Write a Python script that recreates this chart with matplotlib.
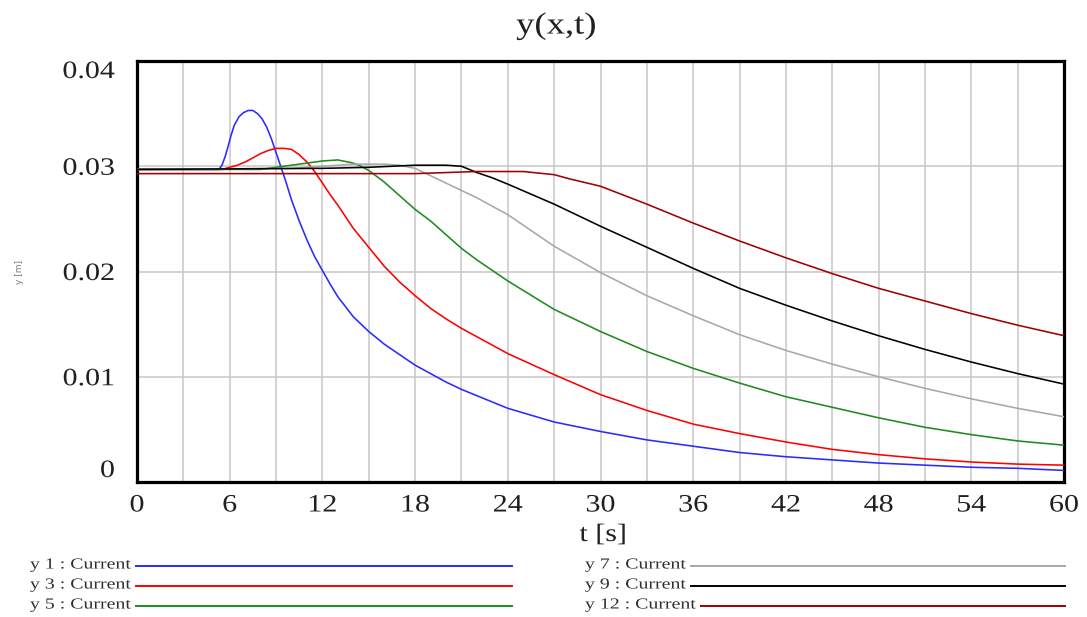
import matplotlib
matplotlib.use("Agg")
import matplotlib.pyplot as plt
import numpy as np
from matplotlib.patheffects import AbstractPathEffect
from matplotlib.transforms import Affine2D
from matplotlib.lines import Line2D

# ---- simulation output: y at several positions x, versus time t [s] ----
t_y1 = [0, 5.3, 5.5, 5.7, 5.9, 6.1, 6.3, 6.6, 6.9, 7.2, 7.5, 7.8, 8.1, 8.4, 8.7, 9.0,
        9.3, 9.6, 10, 10.5, 11, 11.5, 12, 12.5, 13, 14, 15, 16, 17, 18, 19, 20, 21,
        22, 24, 27, 30, 33, 36, 39, 42, 45, 48, 51, 54, 57, 60]
y1 = [0.0297, 0.0297, 0.0301, 0.0309, 0.0319, 0.0330, 0.0339, 0.0347, 0.0351, 0.0353,
      0.0353, 0.0350, 0.0345, 0.0337, 0.0326, 0.0313, 0.0300, 0.0287, 0.0268, 0.0248,
      0.0230, 0.0214, 0.0201, 0.0188, 0.0176, 0.0157, 0.0143, 0.0131, 0.0121, 0.0111,
      0.0103, 0.0095, 0.0088, 0.0082, 0.0070, 0.0057, 0.0048, 0.0040, 0.0034, 0.0028,
      0.0024, 0.0021, 0.0018, 0.0016, 0.0014, 0.0013, 0.0011]

t_y3 = [0, 5.5, 6.0, 6.5, 7.0, 7.5, 8.0, 8.5, 9.0, 9.5, 10.0, 10.5, 11.0, 11.5, 12,
        12.5, 13, 13.5, 14, 15, 16, 17, 18, 19, 20, 21, 22, 24, 27, 30, 33, 36, 39,
        42, 45, 48, 51, 54, 57, 60]
y3 = [0.0297, 0.0297, 0.0299, 0.0301, 0.0304, 0.0308, 0.0312, 0.0315, 0.0317, 0.0317,
      0.0316, 0.0311, 0.0304, 0.0295, 0.0284, 0.0273, 0.0263, 0.0252, 0.0241, 0.0223,
      0.0205, 0.0190, 0.0177, 0.0165, 0.0155, 0.0146, 0.0138, 0.0122, 0.0102, 0.0083,
      0.0068, 0.0055, 0.0046, 0.0038, 0.0031, 0.0026, 0.0022, 0.0019, 0.0017, 0.0016]

t_y5 = [0, 8, 9, 10, 11, 12, 13, 14, 14.5, 15, 16, 17, 18, 19, 20, 21, 22, 24, 27,
        30, 33, 36, 39, 42, 45, 48, 51, 54, 57, 60]
y5 = [0.0297, 0.0297, 0.0299, 0.0301, 0.0303, 0.0305, 0.0306, 0.0303, 0.0300, 0.0296,
      0.0285, 0.0272, 0.0259, 0.0248, 0.0235, 0.0222, 0.0211, 0.0191, 0.0164, 0.0143,
      0.0124, 0.0108, 0.0094, 0.0081, 0.0071, 0.0061, 0.0052, 0.0045, 0.0039, 0.0035]

t_y7 = [0, 10, 12, 14, 16, 17, 18, 19, 20, 21, 22, 24, 27, 30, 33, 36, 39, 42, 45,
        48, 51, 54, 57, 60]
y7 = [0.0297, 0.0298, 0.0300, 0.0302, 0.0302, 0.0301, 0.0298, 0.0291, 0.0284, 0.0277,
      0.0270, 0.0254, 0.0224, 0.0199, 0.0177, 0.0158, 0.0140, 0.0125, 0.0112, 0.0100,
      0.0089, 0.0079, 0.0070, 0.0062]

t_y9 = [0, 12, 15, 18, 20, 21, 22, 23, 24, 27, 30, 33, 36, 39, 42, 45, 48, 51, 54,
        57, 60]
y9 = [0.0297, 0.0298, 0.0299, 0.0301, 0.0301, 0.0300, 0.0294, 0.0289, 0.0283, 0.0264,
      0.0243, 0.0223, 0.0203, 0.0184, 0.0168, 0.0153, 0.0139, 0.0126, 0.0114, 0.0103,
      0.0093]

t_y12 = [0, 18, 20, 22, 25, 27, 28, 30, 33, 36, 39, 42, 45, 48, 51, 54, 57, 60]
y12 = [0.0293, 0.0293, 0.0294, 0.0295, 0.0295, 0.0292, 0.0288, 0.0281, 0.0264, 0.0246,
       0.0229, 0.0213, 0.0198, 0.0184, 0.0172, 0.0160, 0.0149, 0.0139]

series_names = ["y 1 : Current", "y 3 : Current", "y 5 : Current",
                "y 7 : Current", "y 9 : Current", "y 12 : Current"]
series_colors = ["#2a2aff", "#ff0000", "#1f8a1f", "#a8a8a8", "#000000", "#a00000"]

x_ticks = [0, 6, 12, 18, 24, 30, 36, 42, 48, 54, 60]
y_ticks = [0, 0.01, 0.02, 0.03, 0.04]
y_tick_labels = ["0", "0.01", "0.02", "0.03", "0.04"]

SERIF = "Liberation Serif"
W, H = 1087, 617


class Widen(AbstractPathEffect):
    """Draw text glyphs stretched horizontally about a chosen anchor."""

    def __init__(self, sx=1.2, anchor="center"):
        super().__init__()
        self._sx = sx
        self._anchor = anchor

    def draw_path(self, renderer, gc, tpath, affine, rgbFace=None):
        bb = tpath.get_extents(affine)
        if self._anchor == "left":
            x0 = bb.x0
        elif self._anchor == "right":
            x0 = bb.x1
        else:
            x0 = 0.5 * (bb.x0 + bb.x1)
        tr = affine + Affine2D().translate(-x0, 0).scale(self._sx, 1).translate(x0, 0)
        renderer.draw_path(gc, tpath, tr, rgbFace)


SX = 1.2
SX_LEG = 1.3

fig = plt.figure(figsize=(W / 100, H / 100), dpi=100)
fig.patch.set_facecolor("white")
ax = fig.add_axes([137 / W, 1 - 482 / H, (1064 - 137) / W, (482 - 61) / H])

data = [(t_y1, y1), (t_y3, y3), (t_y5, y5), (t_y7, y7), (t_y9, y9), (t_y12, y12)]
for (tt, yy), c in zip(data, series_colors):
    ax.plot(tt, yy, color=c, lw=1.15, zorder=3, solid_joinstyle="round")

ax.set_xlim(0, 60)
ax.set_ylim(0, 0.04)
ax.set_xticks(x_ticks)
ax.set_xticks(np.arange(0, 61, 3), minor=True)
ax.set_yticks(y_ticks)
ax.set_yticklabels(y_tick_labels)
ax.grid(True, which="both", axis="x", color="#c8c8c8", lw=1.1, zorder=1)
ax.grid(True, which="major", axis="y", color="#c8c8c8", lw=1.1, zorder=1)
ax.tick_params(which="both", length=0)
ax.tick_params(axis="x", pad=9, labelsize=18)
ax.tick_params(axis="y", pad=16, labelsize=18)
for sp in ax.spines.values():
    sp.set_linewidth(2.3)
    sp.set_color("black")

for lbl in ax.get_xticklabels():
    lbl.set_fontfamily(SERIF)
    lbl.set_color("#202020")
    lbl.set_path_effects([Widen(SX, "center")])
for lbl in ax.get_yticklabels():
    lbl.set_fontfamily(SERIF)
    lbl.set_color("#202020")
    lbl.set_path_effects([Widen(SX, "right")])
ylbls = ax.get_yticklabels()
ylbls[0].set_va("bottom")
ylbls[-1].set_va("top")

ax.set_xlabel("t [s]", fontsize=18, family=SERIF, color="#202020",
              path_effects=[Widen(SX, "center")])
ax.xaxis.set_label_coords((603 - 137) / (1064 - 137), -(535 - 482) / (482 - 61))
ax.xaxis.label.set_va("center")
ax.set_ylabel("y [m]", fontsize=6.5, color="#7a7a7a")
ax.yaxis.set_label_coords(-(137 - 20) / (1064 - 137), 0.5)
ax.yaxis.label.set_va("center")

fig.text(556 / W, 1 - 26 / H, "y(x,t)", ha="center", va="center", fontsize=22,
         family=SERIF, color="#202020", path_effects=[Widen(SX, "center")])

# legend: name followed by a sample line, in two columns of three rows
renderer = fig.canvas.get_renderer()
rows_px = [565, 585, 605]
cols = [(30, 512), (585, 1065)]
for i, (name, c) in enumerate(zip(series_names, series_colors)):
    x_start, x_end = cols[i // 3]
    y_px = rows_px[i % 3]
    txt = fig.text(x_start / W, 1 - y_px / H, name, ha="left", va="center",
                   fontsize=11, family=SERIF, color="#303030",
                   path_effects=[Widen(SX_LEG, "left")])
    bb = txt.get_window_extent(renderer)
    text_end = bb.x0 + (bb.x1 - bb.x0) * SX_LEG
    fig.add_artist(Line2D([(text_end + 5) / W, x_end / W],
                          [1 - (y_px + 1) / H, 1 - (y_px + 1) / H],
                          transform=fig.transFigure, color=c, lw=1.4))

fig.savefig("out.png", dpi=100)
